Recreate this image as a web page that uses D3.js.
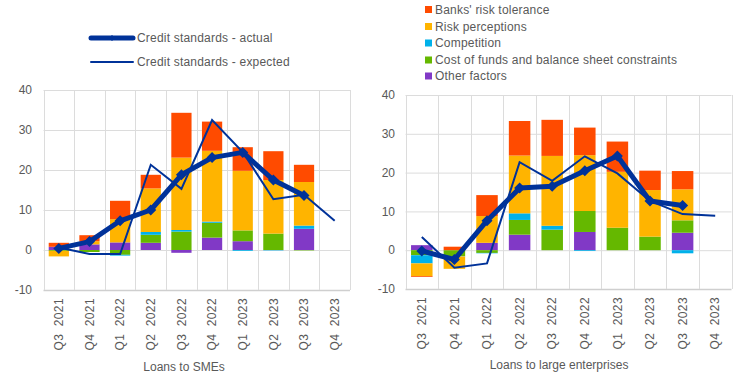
<!DOCTYPE html>
<html><head><meta charset="utf-8">
<script src="https://cdn.jsdelivr.net/npm/d3@7"></script>
<style>body{margin:0;background:#fff}svg{display:block;font-family:"Liberation Sans",Arial,sans-serif}</style>
</head><body><svg id="c" width="744" height="384"></svg>
<script>
const categories = ["Q3 2021","Q4 2021","Q1 2022","Q2 2022","Q3 2022","Q4 2022","Q1 2023","Q2 2023","Q3 2023","Q4 2023"];
const seriesNames = ["Banks' risk tolerance","Risk perceptions","Competition","Cost of funds and balance sheet constraints","Other factors"];
const seriesColors = ["#FF4B00","#FFB400","#00B1EA","#65B800","#8139C6"];
const lineNames = ["Credit standards - actual","Credit standards - expected"];
const yTicks = [-10,0,10,20,30,40];

// Loans to SMEs
const smeTolerance   = [1.0, 1.5, 4.6, 3.4, 11.2, 7.3, 5.9, 7.2, 4.3, null];
const smePerceptions = [-1.4, 0.8, 5.8, 10.9, 18.1, 17.7, 14.9, 13.4, 10.9, null];
const smeCompetition = [0, 0, -0.2, 0.7, 0.4, 0.3, -0.2, -0.1, 0.8, null];
const smeCost        = [-0.2, -0.5, -1.2, 2.0, 4.6, 3.7, 2.7, 4.1, -0.1, null];
const smeOther       = [0.8, 1.4, 1.9, 1.8, -0.7, 3.1, 2.2, 0, 5.3, null];
const smeActual      = [0.4, 2.1, 7.3, 10.0, 18.8, 23.1, 24.4, 17.5, 13.6, null];
const smeExpected    = [0.6, -1.0, -1.0, 21.3, 15.3, 32.5, 24.5, 12.7, 13.8, 7.3];

// Loans to large enterprises
const lgTolerance   = [-0.2, 0.9, 5.4, 8.9, 9.3, 7.1, 7.8, 5.0, 4.7, null];
const lgPerceptions = [-3.3, -3.2, 6.9, 14.9, 18.0, 14.4, 14.4, 12.0, 8.0, null];
const lgCompetition = [-2.1, -0.1, -0.1, 1.7, 1.0, -0.2, 0, 0, -0.8, null];
const lgCost        = [-1.3, -1.5, -0.7, 3.8, 5.3, 5.4, 5.8, 3.5, 3.2, null];
const lgOther       = [1.3, 0, 1.9, 4.0, 0, 4.7, 0, 0, 4.5, null];
const lgActual      = [-0.2, -2.4, 7.6, 16.0, 16.5, 20.5, 24.3, 12.7, 11.5, null];
const lgExpected    = [3.4, -4.5, -3.4, 22.7, 17.9, 24.2, 19.8, 12.7, 9.3, 8.9];

const svg = d3.select("#c");
const TXT = "#595959";

function panel(cfg) {
  const {x0,x1,y0,y1,title,titleX,titleY,comps,actual,expected,labelX} = cfg;
  const g = svg.append("g");
  const x = d3.scaleBand().domain(categories).range([x0,x1]).paddingInner(0.34).paddingOuter(0.17);
  const xb = d3.scaleBand().domain(categories).range([x0,x1]);
  const y = d3.scaleLinear().domain([-10,40]).range([y1,y0]);

  g.selectAll(".hg").data(yTicks).join("line")
    .attr("x1",x0).attr("x2",x1).attr("y1",d=>y(d)+0.5).attr("y2",d=>y(d)+0.5)
    .attr("stroke",d=>d===-10?"#cfcfcf":"#dcdcdc").attr("stroke-width",d=>d===-10?1.5:1);
  const vb = categories.map(c=>xb(c)).concat([x1]);
  g.selectAll(".vg").data(vb).join("line")
    .attr("x1",d=>Math.round(d)+0.5).attr("x2",d=>Math.round(d)+0.5).attr("y1",y0).attr("y2",y1)
    .attr("stroke","#dcdcdc");

  g.selectAll(".yl").data(yTicks).join("text")
    .attr("x",labelX).attr("y",d=>y(d)).attr("dy","0.35em").attr("text-anchor","end")
    .attr("font-size",12).attr("fill",TXT).text(d=>d);

  const rows = categories.map((c,i)=>({cat:c, other:comps[4][i]||0, cost:comps[3][i]||0, comp:comps[2][i]||0, perc:comps[1][i]||0, tol:comps[0][i]||0}));
  const keys = ["other","cost","comp","perc","tol"];
  const keyColor = {other:seriesColors[4],cost:seriesColors[3],comp:seriesColors[2],perc:seriesColors[1],tol:seriesColors[0]};
  const stack = d3.stack().keys(keys).offset(d3.stackOffsetDiverging)(rows);
  stack.forEach(s=>{
    g.selectAll(null).data(s).join("rect")
      .attr("x",d=>x(d.data.cat)).attr("width",x.bandwidth())
      .attr("y",d=>y(Math.max(d[0],d[1]))).attr("height",d=>Math.abs(y(d[0])-y(d[1])))
      .attr("fill",keyColor[s.key]);
  });

  const cx = d=>xb(d.cat)+xb.bandwidth()/2;
  const line = d3.line().defined(d=>d.v!=null).x(cx).y(d=>y(d.v));
  const expData = categories.map((c,i)=>({cat:c,v:expected[i]}));
  const actData = categories.map((c,i)=>({cat:c,v:actual[i]}));
  g.append("path").datum(expData).attr("d",line).attr("fill","none").attr("stroke","#003299").attr("stroke-width",2);
  g.append("path").datum(actData).attr("d",line).attr("fill","none").attr("stroke","#003299").attr("stroke-width",5).attr("stroke-linejoin","round");
  g.selectAll(".dm").data(actData.filter(d=>d.v!=null)).join("path")
    .attr("transform",d=>`translate(${cx(d)},${y(d.v)})`)
    .attr("d","M0,-5.5L5.5,0L0,5.5L-5.5,0Z").attr("fill","#003299");

  g.selectAll(".xl").data(categories).join("text")
    .attr("transform",c=>`translate(${xb(c)+xb.bandwidth()/2},${y1+8}) rotate(-90)`)
    .attr("text-anchor","end").attr("dy","0.35em").attr("font-size",12).attr("fill",TXT)
    .attr("letter-spacing",0.4)
    .attr("xml:space","preserve").text(c=>c.replace(" ","  "));

  g.append("text").attr("x",titleX).attr("y",titleY).attr("text-anchor","middle").attr("dy","0.35em")
    .attr("font-size",12).attr("fill",TXT).text(title);
}

panel({x0:43.5,x1:350,y0:90,y1:290,title:"Loans to SMEs",titleX:184,titleY:367,labelX:32,
  comps:[smeTolerance,smePerceptions,smeCompetition,smeCost,smeOther],actual:smeActual,expected:smeExpected});
panel({x0:405.5,x1:731.5,y0:95,y1:289,title:"Loans to large enterprises",titleX:559,titleY:365,labelX:395,
  comps:[lgTolerance,lgPerceptions,lgCompetition,lgCost,lgOther],actual:lgActual,expected:lgExpected});

const ll = svg.append("g");
const lly = [38,62];
ll.selectAll("line").data(lineNames).join("line")
  .attr("x1",91).attr("x2",133).attr("y1",(d,i)=>lly[i]).attr("y2",(d,i)=>lly[i])
  .attr("stroke","#003299").attr("stroke-width",(d,i)=>i===0?5:2).attr("stroke-linecap","round");
ll.append("path").attr("transform",`translate(112,${lly[0]})`).attr("d","M0,-3L3,0L0,3L-3,0Z").attr("fill","#003299");
ll.selectAll("text").data(lineNames).join("text")
  .attr("x",137).attr("y",(d,i)=>lly[i]).attr("dy","0.35em").attr("font-size",12).attr("fill",TXT)
  .attr("letter-spacing",0.2).text(d=>d);

const bl = svg.append("g");
const bly = [9.5,26.5,43,60,76];
bl.selectAll("rect").data(seriesNames).join("rect")
  .attr("x",425).attr("y",(d,i)=>bly[i]-3.5).attr("width",7).attr("height",7).attr("fill",(d,i)=>seriesColors[i]);
bl.selectAll("text").data(seriesNames).join("text")
  .attr("x",435).attr("y",(d,i)=>bly[i]).attr("dy","0.35em").attr("font-size",12).attr("fill",TXT)
  .attr("letter-spacing",0.2).text(d=>d);
</script></body></html>
